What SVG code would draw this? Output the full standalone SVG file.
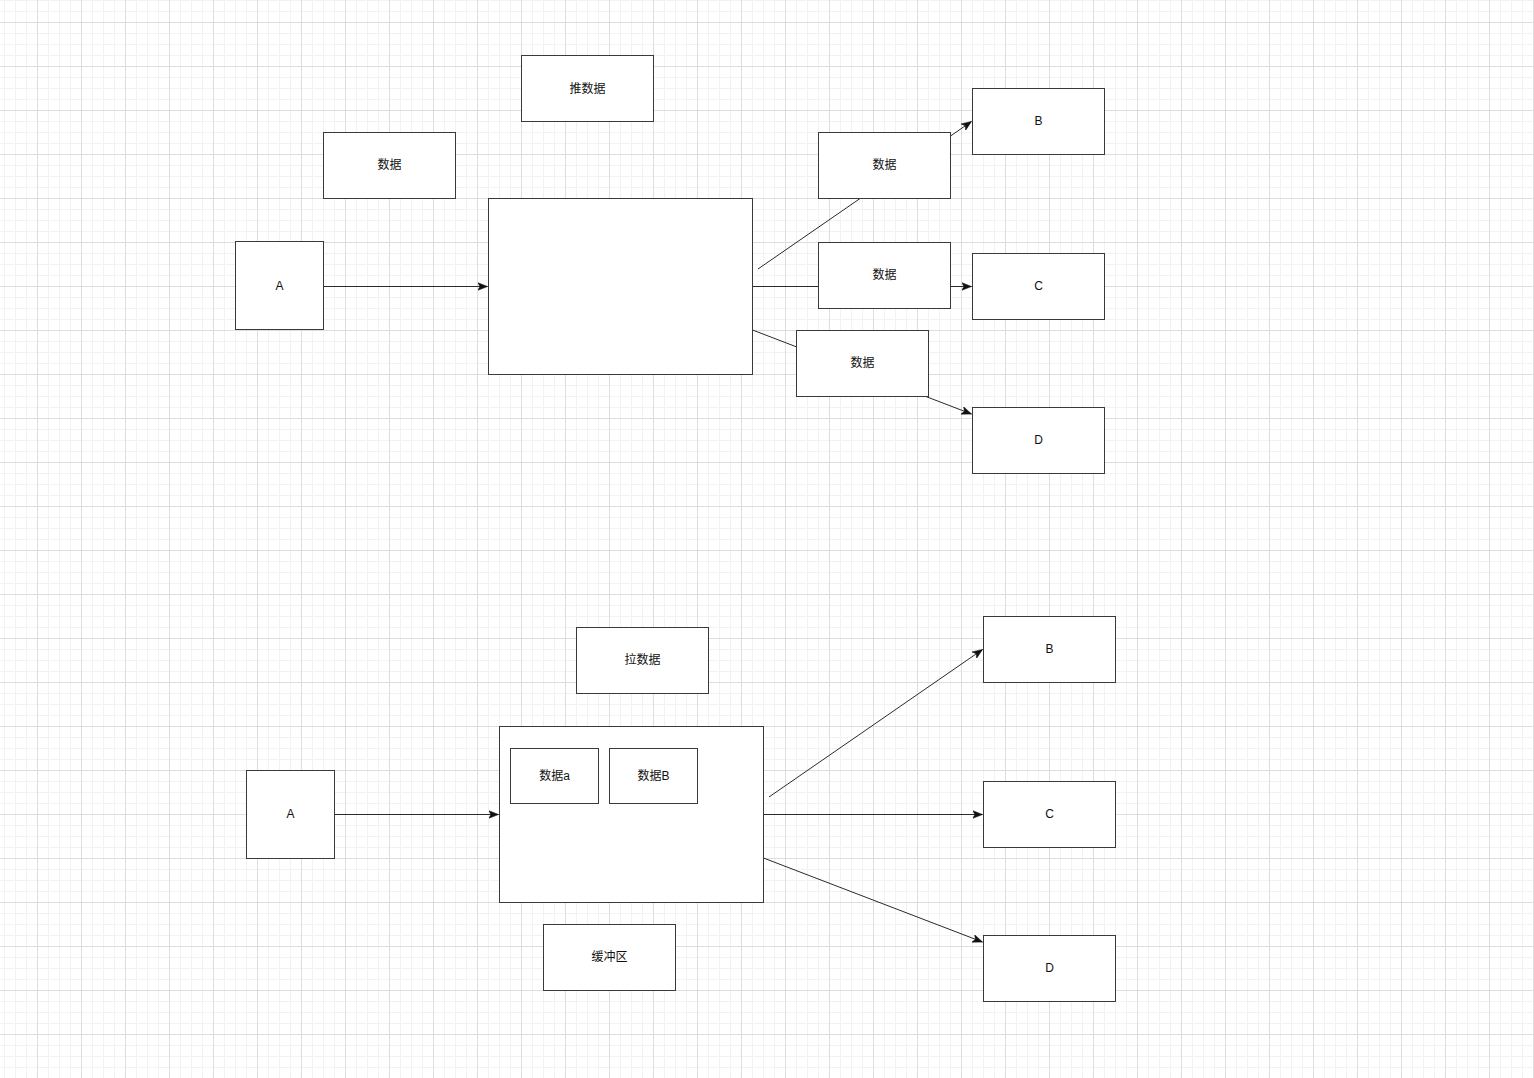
<svg xmlns="http://www.w3.org/2000/svg" width="1534" height="1078" viewBox="0 0 1534 1078">
<defs>
<pattern id="minor" x="4" y="0" width="11" height="11" patternUnits="userSpaceOnUse">
<rect x="0" y="0" width="1" height="11" fill="#f2f2f2"/>
<rect x="0" y="0" width="11" height="1" fill="#f2f2f2"/>
</pattern>
<pattern id="major" x="37" y="22" width="44" height="44" patternUnits="userSpaceOnUse">
<rect x="0" y="0" width="1" height="44" fill="#dedede"/>
<rect x="0" y="0" width="44" height="1" fill="#dedede"/>
</pattern>
<marker id="arr" markerUnits="userSpaceOnUse" markerWidth="12" markerHeight="10" refX="10" refY="4" orient="auto" viewBox="0 0 12 8">
<path d="M0,0 L10,4 L0,8 L2.5,4 Z" fill="#111" stroke="#111" stroke-width="0.5"/>
</marker>
<style>
.box{fill:#fff;stroke:#3a3a3a;stroke-width:1}
.lbl{font-family:"Liberation Sans","Noto Sans CJK SC",sans-serif;font-size:12px;fill:#111;text-anchor:middle;dominant-baseline:central}
.edge{fill:none;stroke:#2a2a2a;stroke-width:1}
</style>
</defs>
<rect width="1534" height="1078" fill="#fff"/>
<rect width="1534" height="1078" fill="url(#minor)"/>
<rect width="1534" height="1078" fill="url(#major)"/>

<g id="connectors">
<line class="edge" x1="323.5" y1="286.5" x2="487.5" y2="286.5" marker-end="url(#arr)"/>
<line class="edge" x1="758" y1="269" x2="971.5" y2="121.5" marker-end="url(#arr)"/>
<line class="edge" x1="752.5" y1="286.5" x2="971.5" y2="286.5" marker-end="url(#arr)"/>
<line class="edge" x1="752.5" y1="330" x2="971.5" y2="414" marker-end="url(#arr)"/>
<line class="edge" x1="334.5" y1="814.5" x2="498.5" y2="814.5" marker-end="url(#arr)"/>
<line class="edge" x1="769" y1="797" x2="982.5" y2="649.5" marker-end="url(#arr)"/>
<line class="edge" x1="763.5" y1="814.5" x2="982.5" y2="814.5" marker-end="url(#arr)"/>
<line class="edge" x1="763.5" y1="858" x2="982.5" y2="942" marker-end="url(#arr)"/>
</g>

<g id="top-push-label"><rect class="box" x="521.5" y="55.5" width="132" height="66"/><text class="lbl" x="587.5" y="88.5">推数据</text></g>
<g id="top-data-left"><rect class="box" x="323.5" y="132.5" width="132" height="66"/><text class="lbl" x="389.5" y="164.5">数据</text></g>
<g id="top-A"><rect class="box" x="235.5" y="241.5" width="88" height="88"/><text class="lbl" x="279.5" y="285.5">A</text></g>
<g id="top-center"><rect class="box" x="488.5" y="198.5" width="264" height="176"/></g>
<g id="top-data-1"><rect class="box" x="818.5" y="132.5" width="132" height="66"/><text class="lbl" x="884.5" y="164.5">数据</text></g>
<g id="top-data-2"><rect class="box" x="818.5" y="242.5" width="132" height="66"/><text class="lbl" x="884.5" y="274.5">数据</text></g>
<g id="top-data-3"><rect class="box" x="796.5" y="330.5" width="132" height="66"/><text class="lbl" x="862.5" y="362.5">数据</text></g>
<g id="top-B"><rect class="box" x="972.5" y="88.5" width="132" height="66"/><text class="lbl" x="1038.5" y="120.5">B</text></g>
<g id="top-C"><rect class="box" x="972.5" y="253.5" width="132" height="66"/><text class="lbl" x="1038.5" y="285.5">C</text></g>
<g id="top-D"><rect class="box" x="972.5" y="407.5" width="132" height="66"/><text class="lbl" x="1038.5" y="439.5">D</text></g>

<g id="bot-pull-label"><rect class="box" x="576.5" y="627.5" width="132" height="66"/><text class="lbl" x="642.5" y="659.5">拉数据</text></g>
<g id="bot-A"><rect class="box" x="246.5" y="770.5" width="88" height="88"/><text class="lbl" x="290.5" y="813.5">A</text></g>
<g id="bot-center"><rect class="box" x="499.5" y="726.5" width="264" height="176"/></g>
<g id="bot-data-a"><rect class="box" x="510.5" y="748.5" width="88" height="55"/><text class="lbl" x="554.5" y="775.5">数据a</text></g>
<g id="bot-data-B"><rect class="box" x="609.5" y="748.5" width="88" height="55"/><text class="lbl" x="653.5" y="775.5">数据B</text></g>
<g id="bot-buffer"><rect class="box" x="543.5" y="924.5" width="132" height="66"/><text class="lbl" x="609.5" y="956.5">缓冲区</text></g>
<g id="bot-B"><rect class="box" x="983.5" y="616.5" width="132" height="66"/><text class="lbl" x="1049.5" y="648.5">B</text></g>
<g id="bot-C"><rect class="box" x="983.5" y="781.5" width="132" height="66"/><text class="lbl" x="1049.5" y="813.5">C</text></g>
<g id="bot-D"><rect class="box" x="983.5" y="935.5" width="132" height="66"/><text class="lbl" x="1049.5" y="967.5">D</text></g>
</svg>
